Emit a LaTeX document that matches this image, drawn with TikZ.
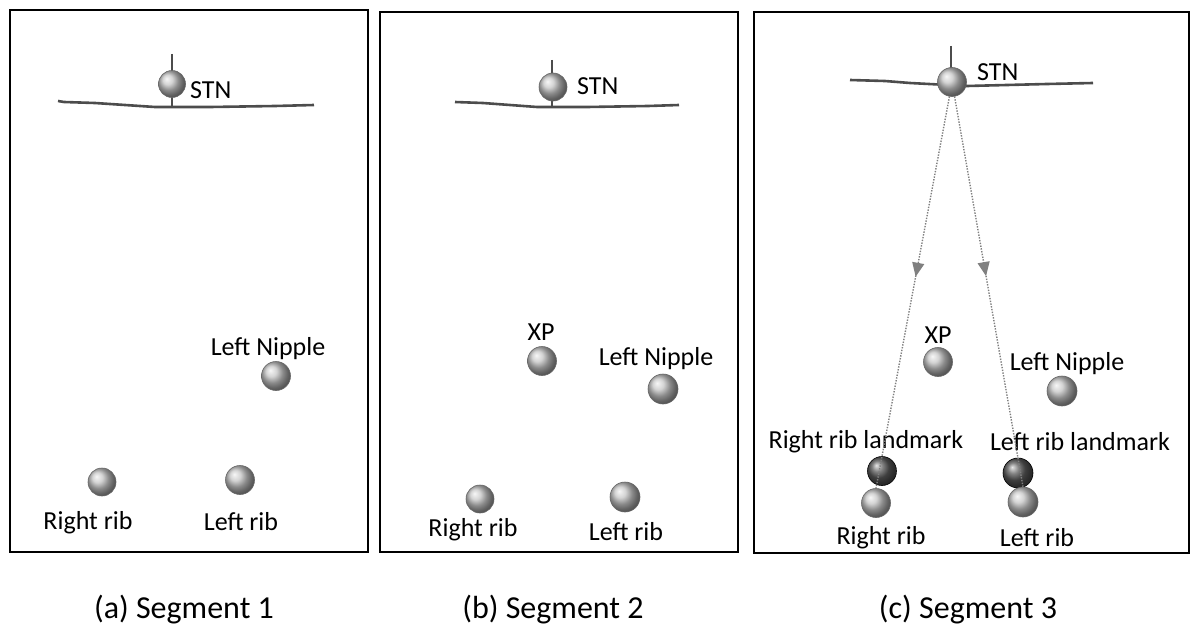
\documentclass[tikz,border=0pt]{standalone}
\usepackage{fontspec}
\setmainfont{Carlito}
\usetikzlibrary{arrows.meta,decorations.markings}
\tikzset{ball/.style={circle, shading=ball, ball color=gray!45, draw=black!60, line width=0.6pt, minimum size=28pt, inner sep=0pt}}
\tikzset{lmball/.style={ball, ball color=black!65, draw=black}}
\tikzset{lbl/.style={inner sep=0pt, font=\fontsize{26}{31}\selectfont}}
\tikzset{capt/.style={inner sep=0pt, font=\fontsize{32}{38}\selectfont}}
\tikzset{panel/.style={draw=black, line width=1.8pt}}
\tikzset{chestbar/.style={draw=black!70, line width=2.6pt}}
\tikzset{stick/.style={draw=black!70, line width=1.6pt}}
\tikzset{ribline/.style={gray, line width=1.4pt, dash pattern=on 1.4pt off 1.4pt,
  postaction={decorate}, decoration={markings, mark=at position 0.46 with {\arrow{Triangle[length=14pt,width=12pt]}}}}}

\begin{document}
\begin{tikzpicture}[x=1pt, y=-1pt]
\useasboundingbox (0,0) rectangle (1194,626);

% (a) segment 1
\draw[panel] (10,10) rectangle (368,552);
\draw[chestbar] (58,101) -- (64,102) -- (95,103) -- (125,105) -- (155,107) -- (210,107) -- (275,106) -- (314,105);
\draw[stick] (172,54) -- (172,106);
\node[ball, minimum size=27pt] (stna) at (172,84) {};
\node[lbl, anchor=west] (stnla) at (190,90) {STN};
\node[lbl] (nipla) at (268,349) {Left Nipple};
\node[ball, minimum size=29pt] (nipa) at (276,376) {};
\node[ball] (rriba) at (102,482) {};
\node[lbl] (rribla) at (88,523) {Right rib};
\node[ball, minimum size=29pt] (lriba) at (240,480) {};
\node[lbl] (lribla) at (241,522) {Left rib};
\node[capt] (capa) at (184,610) {(a) Segment 1};

% (b) segment 2
\draw[panel] (380,12) rectangle (738,552);
\draw[chestbar] (455,102) -- (483,103) -- (510,105) -- (537,107) -- (587,107) -- (648,106) -- (679,105);
\draw[stick] (552,60) -- (552,106);
\node[ball] (stnb) at (553,87) {};
\node[lbl, anchor=west] (stnlb) at (577,86) {STN};
\node[lbl] (xplb) at (541,332) {XP};
\node[ball, minimum size=29pt] (xpb) at (542,361) {};
\node[lbl] (niplb) at (656,359) {Left Nipple};
\node[ball, minimum size=30pt] (nipb) at (663,389) {};
\node[ball] (rribb) at (480,499) {};
\node[lbl] (rriblb) at (473,530) {Right rib};
\node[ball, minimum size=30pt] (lribb) at (625,497) {};
\node[lbl] (lriblb) at (626,532) {Left rib};
\node[capt] (capb) at (553,610) {(b) Segment 2};

% (c) segment 3
\draw[panel] (754,12) rectangle (1189,553);
\draw[chestbar] (850,80) -- (885,81) -- (910,83) -- (967,86) -- (1047,84) -- (1093,83);
\draw[stick] (951,46) -- (951,70);
\node[ball, minimum size=29pt] (stnc) at (952,82) {};
\node[lbl, anchor=west] (stnlc) at (977,72) {STN};
\node[lbl] (xplc) at (938,335) {XP};
\node[ball, minimum size=29pt] (xpc) at (938,362) {};
\node[lbl] (niplc) at (1067,364) {Left Nipple};
\node[ball, minimum size=30pt] (nipc) at (1062,391) {};
\node[lbl] (rlmlc) at (866,442) {Right rib landmark};
\node[lmball, minimum size=29pt] (rlmc) at (882,471) {};
\node[lbl] (llmlc) at (1080,442) {Left rib landmark};
\node[lmball, minimum size=30pt] (llmc) at (1018,473) {};
\node[ball, minimum size=29pt] (rribc) at (876,503) {};
\node[lbl] (rriblc) at (881,538) {Right rib};
\node[ball, minimum size=30pt] (lribc) at (1023,502) {};
\node[lbl] (lriblc) at (1037,538) {Left rib};
\draw[ribline] (stnc.260) -- (rribc.north);
\draw[ribline] (stnc.280) -- (lribc.north);
\node[capt] (capc) at (968,610) {(c) Segment 3};

\end{tikzpicture}
\end{document}
